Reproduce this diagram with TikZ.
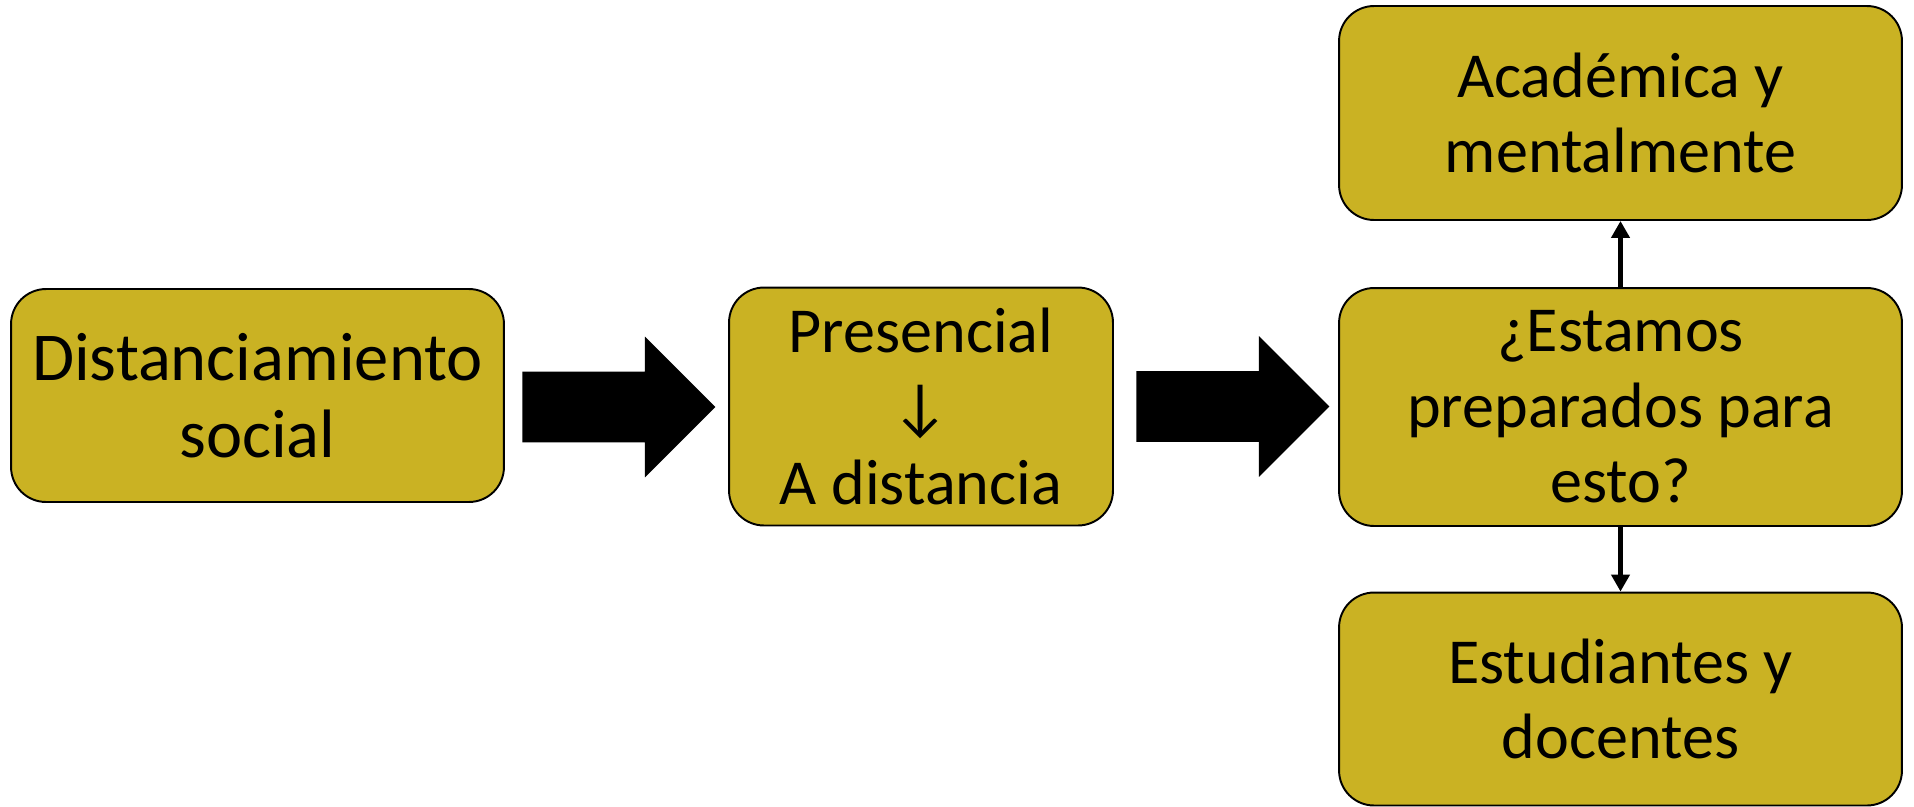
\documentclass[tikz,border=0pt]{standalone}
\usepackage{fontspec}
\setmainfont{Carlito}
\usepackage{tikz}
\usetikzlibrary{arrows.meta,positioning,shapes,shapes.arrows}

\definecolor{oro}{RGB}{202,178,35}

\begin{document}
\begin{tikzpicture}[x=0.02cm, y=-0.02cm,
  caja/.style={draw=black, line width=1.1pt, fill=oro, rounded corners=0.7cm,
    align=center, inner sep=0pt, font=\fontsize{36.5}{43}\selectfont},
  flecha/.style={single arrow, fill=black, inner xsep=0pt, inner ysep=0.7cm,
    minimum height=3.86cm, single arrow head extend=0.7cm, anchor=tail},
  enlace/.style={line width=3pt, -{Triangle[length=0.34cm, width=0.36cm]}}]
  \useasboundingbox (0,0) rectangle (1914,806);

  \node[caja, minimum width=9.86cm, minimum height=4.26cm,
    font=\fontsize{39}{44}\selectfont] (dist) at (257.5,395.5) {Distanciamiento\\social};
  \node[caja, minimum width=7.68cm, minimum height=4.76cm] (modo) at (921,406.5) {Presencial\\↓\\A distancia};
  \node[caja, minimum width=11.26cm, minimum height=4.76cm] (preg) at (1620.5,407) {¿Estamos\\preparados para\\esto?};
  \node[caja, minimum width=11.26cm, minimum height=4.28cm] (acad) at (1620.5,113) {Académica y\\mentalmente};
  \node[caja, minimum width=11.26cm, minimum height=4.26cm] (estud) at (1620.5,699) {Estudiantes y\\docentes};

  \node[flecha] (f_1) at (522,407) {};
  \node[flecha] (f_2) at (1136,406.5) {};

  \draw[enlace] (preg) -- (acad);
  \draw[enlace] (preg) -- (estud);
\end{tikzpicture}
\end{document}
